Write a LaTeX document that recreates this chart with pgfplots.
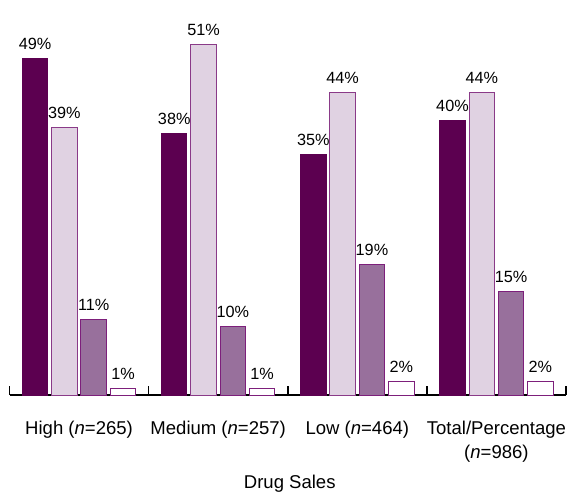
\documentclass[border=0pt]{standalone}
\usepackage{pgfplots}
\pgfplotsset{compat=1.18}
\usepackage{fontspec}
\setmainfont{Liberation Sans}

\definecolor{plumdark}{HTML}{5C0050}
\definecolor{plumlight}{HTML}{E0D2E2}
\definecolor{plummid}{HTML}{98709C}
\definecolor{plumedge}{HTML}{8A3A88}
\definecolor{plumline}{HTML}{7D1F7B}

\begin{document}
\begin{tikzpicture}
\path[use as bounding box] (0,0) rectangle (569bp,495bp);
\begin{axis}[
  at={(9.5bp,100bp)}, anchor=south west,
  width=556.5bp, height=377.85bp, scale only axis,
  xmin=-0.5, xmax=3.5, ymin=0, ymax=55,
  clip=false,
  ybar=3.8bp, bar width=25.5bp,
  axis x line=bottom, axis y line=none,
  axis line style={-, black, line width=1.6bp},
  xtick={0,1,2,3},
  xticklabels={High (\textit{n}=265), Medium (\textit{n}=257), Low (\textit{n}=464), Total/Percentage\\(\textit{n}=986)},
  major tick length=0pt,
  minor xtick={-0.5,0.5,1.5,2.5,3.5},
  minor tick length=9bp,
  minor x tick style={black, line width=1.5bp},
  tick align=inside,
  ytick=\empty,
  xticklabel style={font=\fontsize{18.6}{24}\selectfont, align=center, anchor=north, inner sep=0pt, yshift=-25.5bp},
  xlabel={Drug Sales},
  xlabel style={font=\fontsize{18.6}{24}\selectfont, at={(axis description cs:0.5,0)}, anchor=base, inner sep=0pt, xshift=2bp, yshift=-93.3bp},
  /pgf/number format/assume math mode=true,
  nodes near coords={\pgfmathprintnumber[fixed,precision=0]{\pgfplotspointmeta}\%},
  nodes near coords style={font=\fontsize{16.3}{19}\selectfont, inner sep=0pt, anchor=south, yshift=8.3bp, black},
]
\addplot[fill=plumdark, draw=plumdark, line width=1bp] coordinates {(0,49) (1,38) (2,35) (3,40)};
\addplot[fill=plumlight, draw=plumedge, line width=1bp] coordinates {(0,39) (1,51) (2,44) (3,44)};
\addplot[fill=plummid, draw=plumline, line width=1bp] coordinates {(0,11) (1,10) (2,19) (3,15)};
\addplot[fill=white, draw=plumline, line width=1bp] coordinates {(0,1) (1,1) (2,2) (3,2)};
\end{axis}
\end{tikzpicture}
\end{document}
